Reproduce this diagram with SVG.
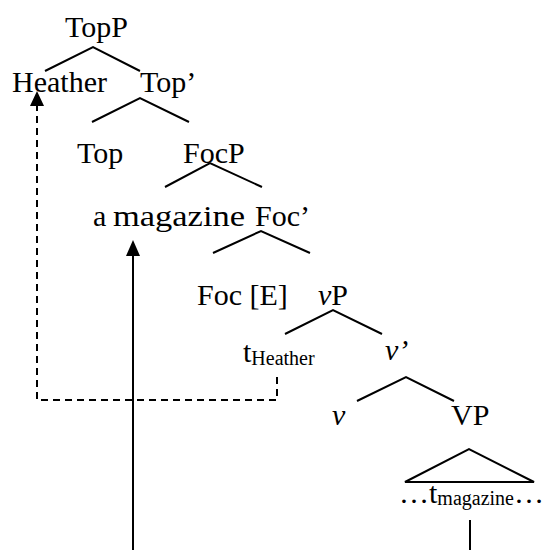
<svg xmlns="http://www.w3.org/2000/svg" width="548" height="550" viewBox="0 0 548 550">
<style>
text{font-family:"Liberation Serif","Times New Roman",serif;font-size:30px;fill:#000}
.sub{font-size:20px}
.it{font-style:italic}
.br{stroke:#000;stroke-width:2;fill:none;stroke-linecap:butt}
.dash{stroke:#000;stroke-width:2;fill:none;stroke-dasharray:7 5}
.solid{stroke:#000;stroke-width:2;fill:none}
</style>
<rect width="548" height="550" fill="#fff"/>
<g id="TopP"><text x="65" y="37">TopP</text></g>
<g id="Heather"><text x="12" y="92">Heather</text></g>
<g id="TopBar"><text x="140" y="92">Top’</text></g>
<g id="Top"><text x="77" y="163">Top</text></g>
<g id="FocP"><text x="183" y="163">FocP</text></g>
<g id="amagazine"><text x="93" y="226">a <tspan x="113" textLength="132" lengthAdjust="spacingAndGlyphs">magazine</tspan></text></g>
<g id="FocBar"><text x="255" y="226">Foc’</text></g>
<g id="FocE"><text x="197" y="305">Foc [E]</text></g>
<g id="vP"><text x="318" y="305"><tspan class="it">v</tspan>P</text></g>
<g id="tHeather"><text x="243" y="362">t<tspan class="sub" dy="3">Heather</tspan></text></g>
<g id="vBar"><text x="385" y="360" class="it">v’</text></g>
<g id="v"><text x="332" y="425" class="it">v</text></g>
<g id="VP"><text x="451" y="425">VP</text>
<path class="br" d="M405,482 L469,449 L534,482 Z" stroke-linejoin="miter"/></g>
<g id="tmagazine"><text x="399" y="503">…t<tspan class="sub" dy="2">magazine</tspan><tspan dy="-2">…</tspan></text></g>
<g id="connectors">
<path class="br" d="M45,71 L93,47 L140,71"/>
<path class="br" d="M92,122 L140,98 L189,122"/>
<path class="br" d="M165,187 L210,163 L262,187"/>
<path class="br" d="M213,253 L261,231 L310,253"/>
<path class="br" d="M285,334 L333,310 L382,334"/>
<path class="br" d="M357,401 L406,377 L454,401"/>
<path class="dash" d="M277,377 L277,400 L37,400 L37,105"/>
<polygon points="37,91 30,106 44,106" fill="#000"/>
<path class="solid" d="M133,550 L133,254"/>
<polygon points="133,240 126,256 140,256" fill="#000"/>
<path class="solid" d="M470,520 L470,550"/>
</g>
</svg>
